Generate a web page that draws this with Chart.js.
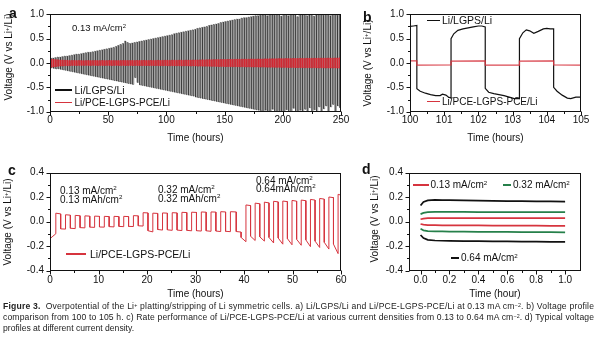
<!DOCTYPE html>
<html><head><meta charset="utf-8">
<script src="https://cdn.jsdelivr.net/npm/chart.js@4.4.1/dist/chart.umd.min.js"></script>
<style>
html,body{margin:0;padding:0;background:#fff;}
#fig{position:relative;width:600px;height:349px;overflow:hidden;background:#fff;font-family:"Liberation Sans",Arial,Helvetica,sans-serif;color:#111;}
#fig canvas{position:absolute;}
.tx{position:absolute;white-space:nowrap;line-height:1;}
.sw{position:absolute;}
.rot{transform:translate(-50%,-50%) rotate(-90deg);}
.ctr{transform:translateX(-50%);}
sup{font-size:0.62em;line-height:0;vertical-align:0;position:relative;top:-0.5em;}
.cap{position:absolute;left:3px;white-space:nowrap;font-family:"Liberation Sans Narrow","Liberation Sans",Arial,sans-serif;font-size:8.6px;line-height:1;color:#222;}
</style></head><body>
<div id="fig">
<canvas id="cA" width="360" height="146" style="left:0;top:0"></canvas>
<canvas id="cB" width="240" height="146" style="left:360px;top:0"></canvas>
<canvas id="cC" width="360" height="142" style="left:0;top:160px"></canvas>
<canvas id="cD" width="240" height="142" style="left:360px;top:160px"></canvas>
<div id="caption">
<div class="cap" id="cap1"><b>Figure 3.</b>&nbsp; Overpotential of the Li<sup>+</sup> platting/stripping of Li symmetric cells. a) Li/LGPS/Li and Li/PCE-LGPS-PCE/Li at 0.13 mA cm<sup>−2</sup>. b) Voltage profile</div>
<div class="cap" id="cap2">comparison from 100 to 105 h. c) Rate performance of Li/PCE-LGPS-PCE/Li at various current densities from 0.13 to 0.64 mA cm<sup>−2</sup>. d) Typical voltage</div>
<div class="cap" id="cap3">profiles at different current density.</div>
</div>
</div>
<script>
// ================= DATA =================
// Panel a : one value per 2-h cycle (charge plateau, discharge plateau)
const aStartHour = 0;
const aHalfCycleHours = 1;
const aLgpsHigh = [
0.10,0.10,0.11,0.12,0.12,0.13,0.14,0.14,0.15,0.16,
0.17,0.18,0.18,0.19,0.20,0.21,0.22,0.22,0.23,0.24,
0.25,0.26,0.27,0.28,0.29,0.30,0.31,0.32,0.34,0.36,
0.38,0.40,0.45,0.42,0.40,0.41,0.42,0.43,0.44,0.45,
0.46,0.47,0.48,0.49,0.50,0.51,0.52,0.53,0.54,0.55,
0.56,0.57,0.58,0.60,0.61,0.62,0.63,0.64,0.65,0.66,
0.67,0.68,0.69,0.71,0.72,0.73,0.74,0.75,0.77,0.78,
0.79,0.80,0.81,0.83,0.84,0.85,0.86,0.87,0.88,0.89,
0.90,0.90,0.92,0.93,0.93,0.94,0.95,0.96,0.97,0.97,
0.98,0.99,1.00,0.97,1.00,1.00,0.98,1.00,1.00,0.96,
1.00,1.00,0.97,1.00,1.00,1.00,0.95,1.00,1.00,1.00,
0.97,1.00,1.00,0.96,1.00,1.00,1.00,0.98,1.00,1.00,
0.97,1.00,1.00,0.98,1.00];
const aLgpsLow = [
-0.10,-0.11,-0.12,-0.12,-0.13,-0.14,-0.15,-0.16,-0.17,-0.18,
-0.19,-0.20,-0.21,-0.22,-0.23,-0.24,-0.25,-0.26,-0.27,-0.28,
-0.29,-0.30,-0.31,-0.32,-0.33,-0.34,-0.35,-0.36,-0.37,-0.38,
-0.39,-0.40,-0.41,-0.42,-0.43,-0.44,-0.30,-0.40,-0.45,-0.46,
-0.47,-0.48,-0.49,-0.50,-0.51,-0.52,-0.53,-0.54,-0.55,-0.56,
-0.57,-0.58,-0.59,-0.60,-0.61,-0.62,-0.63,-0.64,-0.65,-0.66,
-0.67,-0.68,-0.70,-0.71,-0.72,-0.73,-0.74,-0.75,-0.76,-0.77,
-0.78,-0.79,-0.80,-0.81,-0.82,-0.83,-0.84,-0.85,-0.86,-0.87,
-0.88,-0.89,-0.90,-0.91,-0.92,-0.93,-0.94,-0.95,-0.96,-0.97,
-0.98,-1.00,-0.97,-1.00,-1.00,-0.95,-1.00,-1.00,-0.98,-1.00,
-1.00,-0.96,-1.00,-1.00,-0.93,-1.00,-1.00,-0.97,-1.00,-0.95,
-1.00,-0.92,-1.00,-0.96,-1.00,-0.90,-1.00,-0.94,-0.88,-1.00,
-0.90,-0.85,-1.00,-0.88,-0.92];
const aPceHigh = [
0.080,0.075,0.070,0.065,0.060,0.060,0.055,0.055,0.050,0.050,
0.050,0.050,0.050,0.048,0.048,0.048,0.050,0.050,0.048,0.050,
0.050,0.048,0.050,0.050,0.048,0.050,0.050,0.050,0.048,0.050,
0.050,0.050,0.052,0.050,0.050,0.052,0.050,0.052,0.050,0.052,
0.052,0.050,0.052,0.052,0.050,0.052,0.054,0.052,0.054,0.054,
0.055,0.054,0.055,0.056,0.055,0.056,0.058,0.056,0.058,0.058,
0.060,0.060,0.060,0.062,0.062,0.064,0.064,0.065,0.066,0.066,
0.068,0.068,0.070,0.070,0.070,0.072,0.072,0.074,0.074,0.075,
0.075,0.076,0.076,0.078,0.078,0.078,0.080,0.080,0.080,0.082,
0.082,0.082,0.084,0.084,0.085,0.085,0.086,0.086,0.088,0.088,
0.088,0.090,0.090,0.090,0.092,0.092,0.092,0.094,0.094,0.094,
0.095,0.095,0.096,0.096,0.096,0.098,0.098,0.098,0.100,0.100,
0.100,0.100,0.102,0.102,0.104];
const aPceLow = [
-0.085,-0.080,-0.072,-0.066,-0.062,-0.060,-0.056,-0.055,-0.052,-0.050,
-0.050,-0.050,-0.049,-0.048,-0.048,-0.049,-0.050,-0.050,-0.048,-0.050,
-0.050,-0.049,-0.050,-0.050,-0.049,-0.050,-0.051,-0.050,-0.049,-0.050,
-0.051,-0.050,-0.052,-0.051,-0.050,-0.052,-0.051,-0.052,-0.051,-0.052,
-0.053,-0.051,-0.052,-0.053,-0.051,-0.053,-0.055,-0.053,-0.055,-0.055,
-0.056,-0.055,-0.056,-0.057,-0.056,-0.057,-0.059,-0.057,-0.059,-0.059,
-0.061,-0.061,-0.061,-0.063,-0.063,-0.065,-0.065,-0.066,-0.067,-0.067,
-0.069,-0.069,-0.071,-0.071,-0.071,-0.073,-0.073,-0.075,-0.075,-0.076,
-0.076,-0.077,-0.077,-0.079,-0.079,-0.079,-0.081,-0.081,-0.081,-0.083,
-0.083,-0.083,-0.085,-0.085,-0.086,-0.086,-0.087,-0.087,-0.089,-0.089,
-0.089,-0.091,-0.091,-0.091,-0.093,-0.093,-0.093,-0.095,-0.095,-0.095,
-0.096,-0.096,-0.097,-0.097,-0.097,-0.099,-0.099,-0.099,-0.101,-0.101,
-0.101,-0.101,-0.103,-0.103,-0.105];
const aXTicks = [0,50,100,150,200,250];
const aXLabels = ['0','50','100','150','200','250'];
const aXMinor = [25,75,125,175,225];
const aYTicks = [-1,-0.5,0,0.5,1];
const aYLabels = ['-1.0','-0.5','0.0','0.5','1.0'];
const aYMinor = [-0.75,-0.25,0.25,0.75];

// Panel b : 100 - 105 h
const bLgpsTime = [100.0,100.1,100.2,100.2,100.3,100.45,100.6,100.75,100.88,100.95,101.05,101.12,101.2,
  101.2,101.28,101.4,101.55,101.7,101.85,102.0,102.1,102.2,
  102.2,102.3,102.45,102.6,102.75,102.9,103.05,103.2,
  103.2,103.3,103.4,103.5,103.62,103.75,103.9,104.0,104.1,104.2,
  104.2,104.3,104.45,104.6,104.7,104.85,105.0];
const bLgpsVolt = [0.75,0.76,0.77,-0.53,-0.58,-0.62,-0.65,-0.67,-0.67,-0.64,-0.66,-0.70,-0.72,
  0.50,0.60,0.67,0.70,0.72,0.74,0.76,0.76,0.74,
  -0.52,-0.60,-0.63,-0.65,-0.67,-0.70,-0.73,-0.73,
  0.50,0.62,0.68,0.66,0.61,0.65,0.70,0.71,0.70,0.70,
  -0.50,-0.58,-0.66,-0.72,-0.73,-0.70,-0.70];
const bPceTime = [100,100.2,100.2,101.2,101.2,102.2,102.2,103.2,103.2,104.2,104.2,105];
const bPceVolt = [0.045,0.045,-0.045,-0.040,0.040,0.045,-0.045,-0.045,0.040,0.045,-0.040,-0.045];
const bXTicks = [100,101,102,103,104,105];
const bXLabels = ['100','101','102','103','104','105'];
const bXMinor = [100.5,101.5,102.5,103.5,104.5];
const bYTicks = aYTicks, bYLabels = aYLabels, bYMinor = aYMinor;

// Panel c : rate test, each step = [start hour, start voltage, end voltage]
const cEndHour = 60;
const cSegStart = [0,0.6,
  1.2,2.2,3.2,4.2,5.2,6.2,7.2,8.2,9.2,10.2,11.2,12.2,13.2,14.2,15.2,16.2,17.2,18.2,
  19.2,20.2,21.2,22.2,23.2,24.2,25.2,26.2,27.2,28.2,29.2,30.2,31.2,32.2,33.2,34.2,35.2,36.2,37.2,38.4,
  39.4,40.4,41.35,42.3,43.25,44.2,45.15,46.1,47.05,48.0,48.95,49.9,50.85,51.8,52.75,53.7,54.65,55.6,56.55,57.5,58.45,59.4];
const cSegV0 = [-0.14,-0.12,
  0.068,-0.060,0.055,-0.055,0.050,-0.050,0.046,-0.046,0.044,-0.045,0.042,-0.042,0.042,-0.040,0.042,-0.040,0.048,-0.035,
  0.072,-0.075,0.068,-0.065,0.070,-0.068,0.072,-0.070,0.075,-0.072,0.076,-0.075,0.078,-0.076,0.078,-0.078,0.080,-0.080,0.080,-0.082,
  -0.13,0.135,-0.12,0.150,-0.125,0.158,-0.130,0.165,-0.135,0.167,-0.140,0.172,-0.145,0.175,-0.150,0.180,-0.160,0.188,-0.170,0.200,-0.185,0.222];
const cSegV1 = [-0.12,-0.10,
  0.062,-0.062,0.052,-0.058,0.047,-0.052,0.044,-0.048,0.042,-0.046,0.040,-0.044,0.040,-0.042,0.040,-0.041,0.046,-0.037,
  0.070,-0.085,0.066,-0.070,0.068,-0.072,0.070,-0.074,0.073,-0.076,0.074,-0.078,0.076,-0.080,0.077,-0.082,0.078,-0.083,0.078,-0.086,
  -0.165,0.130,-0.155,0.145,-0.160,0.152,-0.175,0.160,-0.185,0.162,-0.190,0.166,-0.194,0.170,-0.205,0.175,-0.212,0.183,-0.225,0.195,-0.262,0.215];
const cXTicks = [0,10,20,30,40,50,60];
const cXLabels = ['0','10','20','30','40','50','60'];
const cXMinor = [5,15,25,35,45,55];
const cYTicks = [-0.4,-0.2,0,0.2,0.4];
const cYLabels = ['-0.4','-0.2','0.0','0.2','0.4'];
const cYMinor = [-0.3,-0.1,0.1,0.3];

// Panel d : one charge / discharge hour at each current density
const dTime = [0,0.02,0.05,0.1,0.15,0.2,0.3,0.4,0.5,0.6,0.7,0.8,0.9,1.0];
const d064Up   = [0.130,0.160,0.172,0.176,0.175,0.174,0.172,0.170,0.168,0.167,0.166,0.165,0.164,0.163];
const d032Up   = [0.060,0.070,0.076,0.078,0.078,0.078,0.078,0.077,0.077,0.077,0.076,0.076,0.076,0.076];
const d013Up   = [0.018,0.024,0.027,0.028,0.028,0.028,0.028,0.028,0.028,0.028,0.028,0.027,0.027,0.027];
const d013Down = [-0.020,-0.026,-0.029,-0.030,-0.031,-0.031,-0.032,-0.032,-0.033,-0.033,-0.034,-0.034,-0.035,-0.035];
const d032Down = [-0.060,-0.072,-0.078,-0.080,-0.081,-0.082,-0.083,-0.084,-0.085,-0.085,-0.086,-0.086,-0.087,-0.088];
const d064Down = [-0.110,-0.135,-0.150,-0.155,-0.157,-0.158,-0.160,-0.161,-0.162,-0.163,-0.164,-0.165,-0.166,-0.166];
const dXTicks = [0,0.2,0.4,0.6,0.8,1.0];
const dXLabels = ['0.0','0.2','0.4','0.6','0.8','1.0'];
const dXMinor = [0.1,0.3,0.5,0.7,0.9];
const dYTicks = cYTicks, dYLabels = cYLabels, dYMinor = cYMinor;

// ================= BUILD =================
const RED = 'rgb(214,52,62)', GREEN = 'rgb(38,128,74)', BLACK = '#111';
const FONT = "'Liberation Sans', Arial, Helvetica, sans-serif";
Chart.defaults.font.family = FONT;
Chart.defaults.color = '#111';

function cyclePoints(start, half, highs, lows){
  const pts = [];
  highs.forEach((h,k)=>{
    const t = start + 2*half*k;
    pts.push({x:t,y:h},{x:t+half,y:h},{x:t+half,y:lows[k]},{x:t+2*half,y:lows[k]});
  });
  return pts;
}
const zip = (xs, ys) => xs.map((x,i)=>({x, y:ys[i]}));
function stepPoints(starts, v0, v1, end){
  const pts = [];
  starts.forEach((t,i)=>{
    pts.push({x:t,y:v0[i]},{x:(i<starts.length-1?starts[i+1]:end),y:v1[i]});
  });
  return pts;
}

const frameTicks = {
  id:'frameTicks',
  afterDraw(chart, _a, o){
    const {ctx, chartArea:c} = chart;
    const xs = chart.scales.x, ys = chart.scales.y;
    ctx.save();
    ctx.strokeStyle = '#111'; ctx.lineWidth = 1;
    const L = Math.round(c.left)+0.5, R = Math.round(c.right)-0.5, T = Math.round(c.top)+0.5, B = Math.round(c.bottom)-0.5;
    ctx.strokeRect(L, T, R-L, B-T);
    ctx.beginPath();
    const tick = (vals, len, horiz) => vals.forEach(v => {
      if (horiz){ const x = Math.round(xs.getPixelForValue(v))+0.5; ctx.moveTo(x,B); ctx.lineTo(x,B+len); }
      else { const y = Math.round(ys.getPixelForValue(v))+0.5; ctx.moveTo(L,y); ctx.lineTo(L-len,y); }
    });
    tick(o.xMajor,4,true); tick(o.xMinor,2.5,true); tick(o.yMajor,4,false); tick(o.yMinor,2.5,false);
    ctx.stroke(); ctx.restore();
  }
};

function axis(min, max, ticks, labels, size, pad, horiz){
  return {
    type:'linear', min, max,
    grid:{display:false, drawTicks:false},
    border:{display:false},
    ticks:{font:{size:10, family:FONT}, color:'#111', padding:pad, autoSkip:false, maxRotation:0, minRotation:0,
      callback:(v,i)=>labels[i]},
    afterBuildTicks:s=>{ s.ticks = ticks.map(v=>({value:v})); },
    afterFit:s=>{ if(horiz) s.height = size; else s.width = size; }
  };
}

function make(id, geo, datasets, ax){
  return new Chart(document.getElementById(id), {
    type:'line',
    data:{datasets},
    options:{
      responsive:false, animation:false, devicePixelRatio:1,
      layout:{padding:{left:0, top:geo.top, right:geo.right, bottom:0}},
      elements:{point:{radius:0}, line:{tension:0}},
      plugins:{legend:{display:false}, tooltip:{enabled:false},
        frameTicks:{xMajor:ax.xT, xMinor:ax.xm, yMajor:ax.yT, yMinor:ax.ym}},
      scales:{
        x: axis(ax.xmin, ax.xmax, ax.xT, ax.xL, geo.xh, geo.xpad, true),
        y: axis(ax.ymin, ax.ymax, ax.yT, ax.yL, geo.yw, 6, false)
      }
    },
    plugins:[frameTicks]
  });
}

make('cA', {top:14.3, right:19, xh:34.3, yw:50, xpad:3}, [
  {data:cyclePoints(aStartHour,aHalfCycleHours,aPceHigh,aPceLow), borderColor:'rgba(214,40,50,0.85)', borderWidth:0.9},
  {data:cyclePoints(aStartHour,aHalfCycleHours,aLgpsHigh,aLgpsLow), borderColor:'rgba(0,0,0,0.72)', borderWidth:0.55}
], {xmin:0,xmax:250,xT:aXTicks,xL:aXLabels,xm:aXMinor,ymin:-1,ymax:1,yT:aYTicks,yL:aYLabels,ym:aYMinor});

make('cB', {top:14.3, right:19, xh:34.3, yw:50, xpad:3}, [
  {data:zip(bPceTime,bPceVolt), borderColor:'rgba(214,52,62,0.9)', borderWidth:1.3},
  {data:zip(bLgpsTime,bLgpsVolt), borderColor:BLACK, borderWidth:1.2}
], {xmin:100,xmax:105,xT:bXTicks,xL:bXLabels,xm:bXMinor,ymin:-1,ymax:1,yT:bYTicks,yL:bYLabels,ym:bYMinor});

make('cC', {top:12.5, right:19, xh:31.5, yw:50, xpad:4}, [
  {data:stepPoints(cSegStart,cSegV0,cSegV1,cEndHour), borderColor:RED, borderWidth:1}
], {xmin:0,xmax:60,xT:cXTicks,xL:cXLabels,xm:cXMinor,ymin:-0.4,ymax:0.4,yT:cYTicks,yL:cYLabels,ym:cYMinor});

make('cD', {top:12.5, right:19, xh:31.5, yw:49, xpad:4}, [
  {data:zip(dTime,d013Up), borderColor:RED, borderWidth:1.7},
  {data:zip(dTime,d013Down), borderColor:RED, borderWidth:1.7},
  {data:zip(dTime,d032Up), borderColor:GREEN, borderWidth:1.7},
  {data:zip(dTime,d032Down), borderColor:GREEN, borderWidth:1.7},
  {data:zip(dTime,d064Up), borderColor:BLACK, borderWidth:1.7},
  {data:zip(dTime,d064Down), borderColor:BLACK, borderWidth:1.7}
], {xmin:-0.08,xmax:1.11,xT:dXTicks,xL:dXLabels,xm:dXMinor,ymin:-0.4,ymax:0.4,yT:dYTicks,yL:dYLabels,ym:dYMinor});

// ================= TEXT =================
const fig = document.getElementById('fig');
function text(html, x, cy, fs, extra){
  const d = document.createElement('div');
  d.className = 'tx' + (extra && extra.cls ? ' '+extra.cls : '');
  d.innerHTML = html;
  d.style.fontSize = fs+'px';
  d.style.left = x+'px';
  if (extra && extra.cls === 'rot') d.style.top = cy+'px';
  else d.style.top = (cy - 0.5*fs)+'px';
  if (extra && extra.bold) d.style.fontWeight = 'bold';
  fig.appendChild(d);
}
function swatch(x1, x2, y, color, w){
  const d = document.createElement('div');
  d.className = 'sw';
  d.style.left = x1+'px'; d.style.width = (x2-x1)+'px';
  d.style.top = (y - w/2)+'px'; d.style.height = w+'px';
  d.style.background = color;
  fig.appendChild(d);
}
const VT = 'Voltage (V vs Li<sup>+</sup>/Li)';
// panel letters
text('a', 9, 13, 14, {bold:true});
text('b', 363, 17, 14, {bold:true});
text('c', 8, 170, 14, {bold:true});
text('d', 362, 169, 14, {bold:true});
// axis titles
text(VT, 8.5, 57, 10, {cls:'rot'});
text(VT, 368, 63, 10, {cls:'rot'});
text(VT, 8, 222, 10, {cls:'rot'});
text(VT, 375, 219, 10, {cls:'rot'});
text('Time (hours)', 195.5, 138, 10, {cls:'ctr'});
text('Time (hours)', 495.5, 138, 10, {cls:'ctr'});
text('Time (hours)', 195.5, 293.5, 10, {cls:'ctr'});
text('Time (hour)', 495, 293.5, 10, {cls:'ctr'});
// panel a
text('0.13 mA/cm<sup>2</sup>', 72, 28, 9.5);
swatch(55, 72, 90, BLACK, 1.2); text('Li/LGPS/Li', 74.5, 90, 10.5);
swatch(55, 72, 102.7, RED, 1.4); text('Li/PCE-LGPS-PCE/Li', 74.5, 102.7, 10);
// panel b
swatch(427, 440, 20.5, BLACK, 1.2); text('Li/LGPS/Li', 442, 20.5, 10.5);
swatch(427, 440, 101.5, RED, 1.4); text('Li/PCE-LGPS-PCE/Li', 442, 101.5, 10);
// panel c
text('0.13 mA/cm<sup>2</sup>', 60, 190.5, 10);
text('0.13 mAh/cm<sup>2</sup>', 60, 199.5, 10);
text('0.32 mA/cm<sup>2</sup>', 158, 189.5, 10);
text('0.32 mAh/cm<sup>2</sup>', 158, 198.5, 10);
text('0.64 mA/cm<sup>2</sup>', 256, 180.5, 10);
text('0.64mAh/cm<sup>2</sup>', 256, 188.5, 10);
swatch(66, 86, 254, RED, 1.2); text('Li/PCE-LGPS-PCE/Li', 90, 254, 10.5);
// panel d
swatch(413, 429, 185, RED, 1.8); text('0.13 mA/cm<sup>2</sup>', 430.5, 185, 10);
swatch(503, 511, 185, GREEN, 1.8); text('0.32 mA/cm<sup>2</sup>', 513, 185, 10);
swatch(451, 459, 258, BLACK, 1.8); text('0.64 mA/cm<sup>2</sup>', 461, 258, 10);

// caption lines
const capY = [306.5, 317.5, 328.5];
['cap1','cap2','cap3'].forEach((id,i)=>{
  const el = document.getElementById(id);
  el.style.top = (capY[i]-4.3)+'px';
  if (i<2){
    const w = el.getBoundingClientRect().width;
    const n = el.textContent.length;
    el.style.letterSpacing = ((591 - w)/(n-1))+'px';
  }
});
</script>
</body></html>
